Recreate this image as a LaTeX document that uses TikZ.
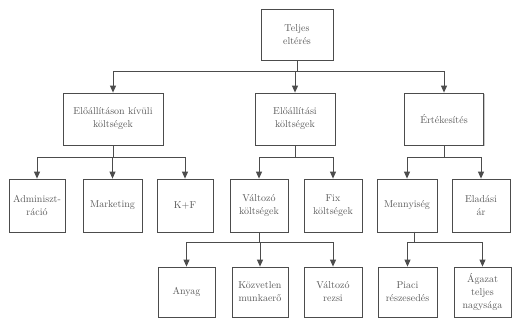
\documentclass[tikz,border=0pt]{standalone}
\usetikzlibrary{arrows.meta,shadows}
\begin{document}
\begin{tikzpicture}[x=1pt,y=-1pt,
  box/.style={draw=black!70, line width=0.8pt, fill=white, align=center,
    inner sep=0pt, text=black!65, font=\fontsize{10}{13}\selectfont,
    drop shadow={shadow xshift=1.3pt, shadow yshift=-1.3pt, fill=black!35, opacity=0.6}},
  conn/.style={draw=black!70, line width=0.9pt},
  arr/.style={conn, -{Triangle[width=6pt,length=7pt]}}]
\useasboundingbox (0,0) rectangle (513,322);
\fill[white] (0,0) rectangle (513,322);
% level 0
\node[box, minimum width=72pt, minimum height=51pt] (top) at (297,34.5) {Teljes\\eltérés};
% level 1
\node[box, minimum width=100pt, minimum height=52pt] (nonprod) at (113,119) {Előállításon kívüli\\költségek};
\node[box, minimum width=80pt, minimum height=52pt] (prod) at (295,119) {Előállítási\\költségek};
\node[box, minimum width=79pt, minimum height=52pt] (sales) at (444,119) {Értékesítés};
% level 2
\node[box, minimum width=56pt, minimum height=53pt] (admin) at (37,205.5) {Adminiszt-\\ráció};
\node[box, minimum width=59pt, minimum height=53pt] (mkt) at (112.5,205.5) {Marketing};
\node[box, minimum width=56pt, minimum height=53pt] (kf) at (185,205.5) {K+F};
\node[box, minimum width=58pt, minimum height=53pt] (valt) at (259,205.5) {Változó\\költségek};
\node[box, minimum width=58pt, minimum height=53pt] (fix) at (333,205.5) {Fix\\költségek};
\node[box, minimum width=60pt, minimum height=53pt] (menny) at (407,205.5) {Mennyiség};
\node[box, minimum width=58pt, minimum height=53pt] (elad) at (481,205.5) {Eladási\\ár};
% level 3
\node[box, minimum width=57pt, minimum height=50pt] (anyag) at (186.5,292) {Anyag};
\node[box, minimum width=56pt, minimum height=50pt] (kozv) at (260,292) {Közvetlen\\munkaerő};
\node[box, minimum width=58pt, minimum height=50pt] (rezsi) at (333,292) {Változó\\rezsi};
\node[box, minimum width=59pt, minimum height=50pt] (piaci) at (407.5,292) {Piaci\\részesedés};
\node[box, minimum width=57pt, minimum height=50pt] (agazat) at (482.5,292) {Ágazat\\teljes\\nagysága};
% bus coordinates
\coordinate (b0) at (0,71);
\coordinate (b1) at (0,157);
\coordinate (b2) at (0,242);
\coordinate (mo) at (414,231.5);
% connectors level 0 -> 1
\draw[conn] (top.south) -- (top.south |- b0);
\draw[conn] (nonprod.north |- b0) -- (sales.north |- b0);
\draw[arr] (nonprod.north |- b0) -- (nonprod.north);
\draw[arr] (prod.north |- b0) -- (prod.north);
\draw[arr] (sales.north |- b0) -- (sales.north);
% nonprod -> children
\draw[conn] (nonprod.south) -- (nonprod.south |- b1);
\draw[conn] (admin.north |- b1) -- (kf.north |- b1);
\draw[arr] (admin.north |- b1) -- (admin.north);
\draw[arr] (mkt.north |- b1) -- (mkt.north);
\draw[arr] (kf.north |- b1) -- (kf.north);
% prod -> children
\draw[conn] (prod.south) -- (prod.south |- b1);
\draw[conn] (valt.north |- b1) -- (fix.north |- b1);
\draw[arr] (valt.north |- b1) -- (valt.north);
\draw[arr] (fix.north |- b1) -- (fix.north);
% sales -> children
\draw[conn] (sales.south) -- (sales.south |- b1);
\draw[conn] (menny.north |- b1) -- (elad.north |- b1);
\draw[arr] (menny.north |- b1) -- (menny.north);
\draw[arr] (elad.north |- b1) -- (elad.north);
% valt -> children
\draw[conn] (valt.south) -- (valt.south |- b2);
\draw[conn] (anyag.north |- b2) -- (rezsi.north |- b2);
\draw[arr] (anyag.north |- b2) -- (anyag.north);
\draw[arr] (kozv.north |- b2) -- (kozv.north);
\draw[arr] (rezsi.north |- b2) -- (rezsi.north);
% menny -> children
\draw[conn] (mo) -- (mo |- b2);
\draw[conn] (piaci.north |- b2) -- (agazat.north |- b2);
\draw[arr] (piaci.north |- b2) -- (piaci.north);
\draw[arr] (agazat.north |- b2) -- (agazat.north);
\end{tikzpicture}
\end{document}
